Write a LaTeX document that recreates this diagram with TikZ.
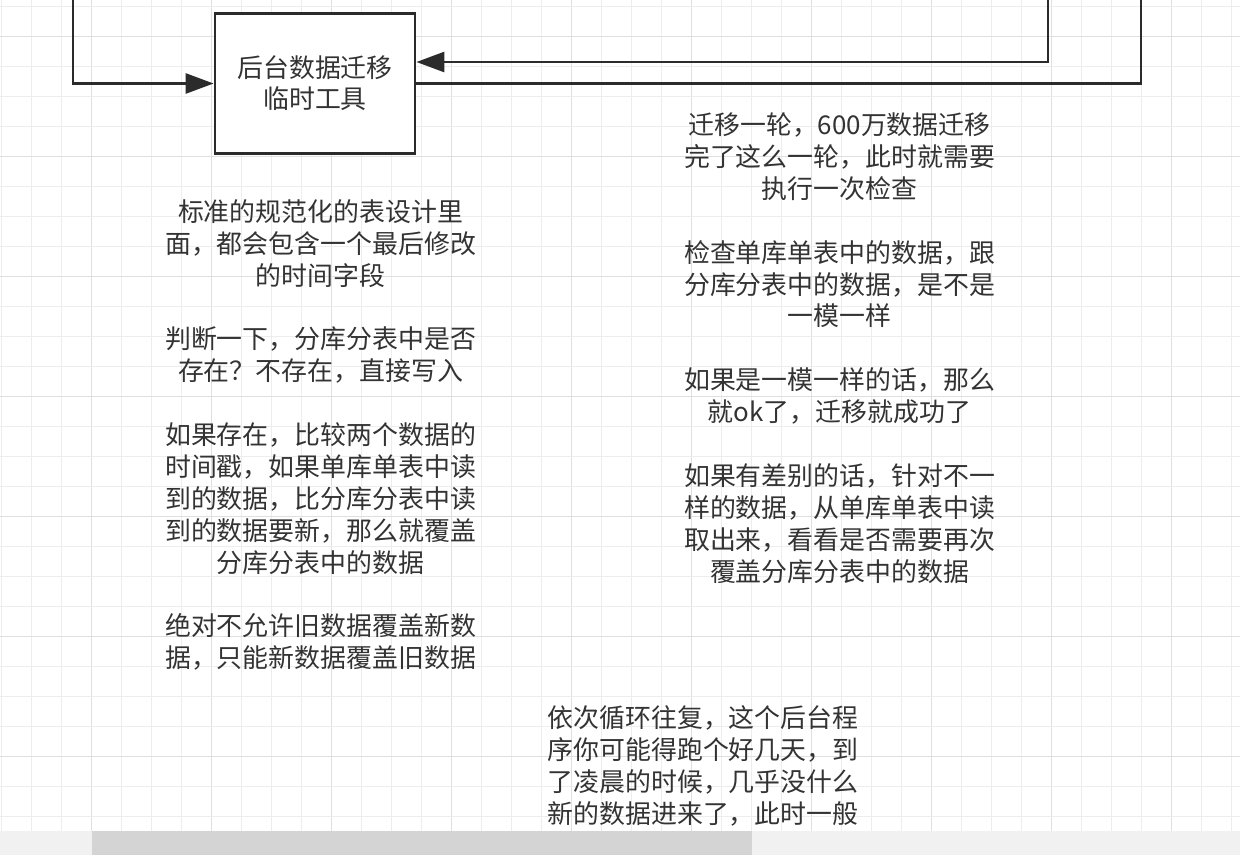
\documentclass[tikz,border=0pt]{standalone}
\usepackage{fontspec}
\setmainfont{Noto Sans CJK SC}
\usetikzlibrary{arrows.meta}
\definecolor{gridc}{HTML}{EDEDED}
\definecolor{gridd}{HTML}{DFDFDF}
\definecolor{linec}{HTML}{2B2B2B}
\definecolor{textc}{HTML}{333333}
\definecolor{scrollbg}{HTML}{F1F1F1}
\definecolor{thumbc}{HTML}{D4D4D4}
\begin{document}
\begin{tikzpicture}[x=1pt,y=-1pt,
  wire/.style={line width=2.8pt, draw=linec},
  conn/.style={wire, -{Triangle[length=28pt,width=20pt]}},
  txt/.style={align=center, text=textc, font=\fontsize{25.9}{31.9}\selectfont, inner sep=0pt},
  boxstyle/.style={draw=linec, line width=2.8pt, fill=white, minimum width=200pt, minimum height=140pt, align=center, text=textc, font=\fontsize{25.9}{31}\selectfont}]
\useasboundingbox (0,0) rectangle (1240,855);
\fill[white] (0,0) rectangle (1240,855);
% grid
\foreach \i in {0,...,41} {
  \pgfmathtruncatemacro{\m}{mod(\i,4)}
  \ifnum\m=3
    \draw[gridd, line width=1pt] ({1.7+30*\i},0) -- ({1.7+30*\i},831);
  \else
    \draw[gridc, line width=1pt] ({1.7+30*\i},0) -- ({1.7+30*\i},831);
  \fi
}
\foreach \j in {0,...,27} {
  \pgfmathtruncatemacro{\m}{mod(\j,4)}
  \ifnum\m=1
    \draw[gridd, line width=1pt] (0,{6.7+30*\j}) -- (1240,{6.7+30*\j});
  \else
    \draw[gridc, line width=1pt] (0,{6.7+30*\j}) -- (1240,{6.7+30*\j});
  \fi
}
% scrollbar
\fill[scrollbg] (0,831) rectangle (1240,855);
\fill[thumbc] (92,831) rectangle (752,855);

% box
\node[boxstyle] (box) at (315,83.5) {后台数据迁移\\临时工具};

% connectors
\coordinate (l0) at (73,-2);
\draw[conn] (l0) |- (box.west);
\coordinate (r0) at (1048,-2);
\coordinate (r1) at (1048,62);
\draw[conn] (r0) -- (r1) -- (box.east |- r1);
\coordinate (q0) at (1141,-2);
\draw[wire] (box.east) -| (q0);

% texts
\node[txt] (t1) at (320.5,435) {标准的规范化的表设计里\\面，都会包含一个最后修改\\的时间字段\\[31.9pt]
判断一下，分库分表中是否\\存在？不存在，直接写入\\[31.9pt]
如果存在，比较两个数据的\\时间戳，如果单库单表中读\\到的数据，比分库分表中读\\到的数据要新，那么就覆盖\\分库分表中的数据\\[31.9pt]
绝对不允许旧数据覆盖新数\\据，只能新数据覆盖旧数据};

\node[txt] (t2) at (839.5,348) {迁移一轮，600万数据迁移\\完了这么一轮，此时就需要\\执行一次检查\\[31.9pt]
检查单库单表中的数据，跟\\分库分表中的数据，是不是\\一模一样\\[31.9pt]
如果是一模一样的话，那么\\就ok了，迁移就成功了\\[31.9pt]
如果有差别的话，针对不一\\样的数据，从单库单表中读\\取出来，看看是否需要再次\\覆盖分库分表中的数据};

\node[txt] (t3) at (703,766) {依次循环往复，这个后台程\\序你可能得跑个好几天，到\\了凌晨的时候，几乎没什么\\新的数据进来了，此时一般};
\end{tikzpicture}
\end{document}
